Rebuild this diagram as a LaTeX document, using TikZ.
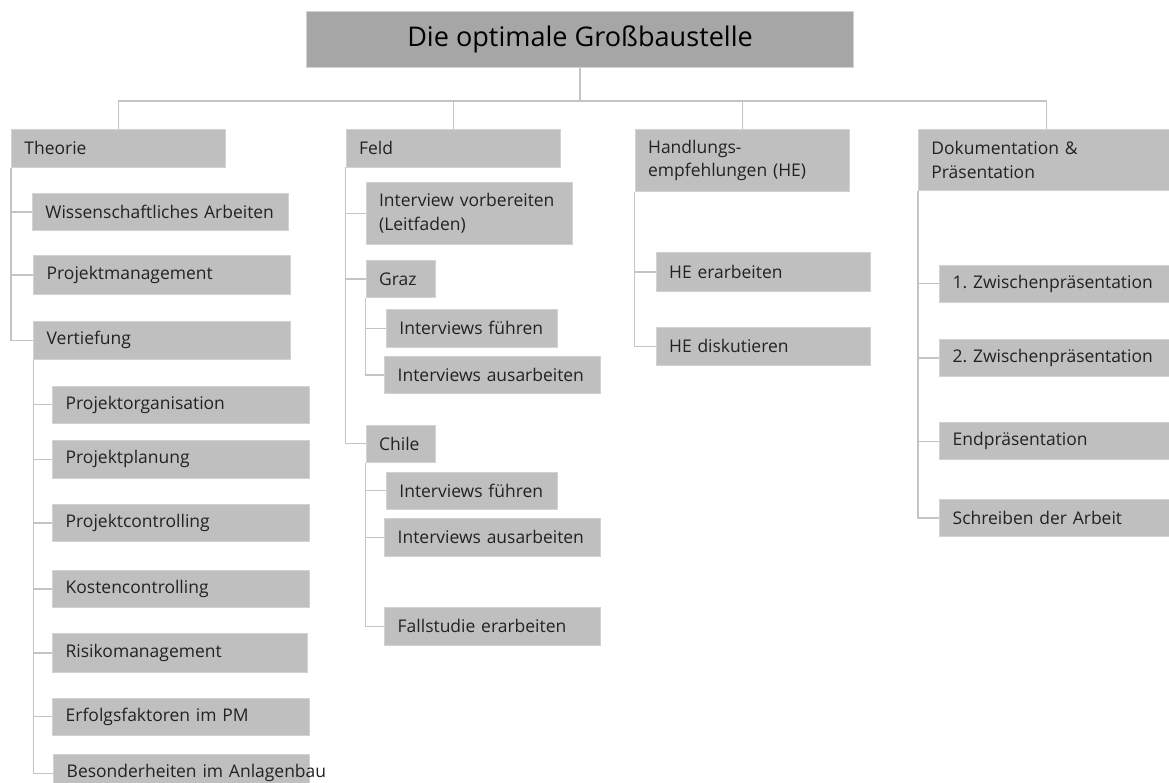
\documentclass[tikz,border=0pt]{standalone}
\usepackage{fontspec}
\setmainfont{Open Sans}
\newfontfamily\boxfam{Open Sans}[WordSpace=0.65]
\newdimen\px \px=0.75pt
\definecolor{boxfill}{HTML}{BFBFBF}
\definecolor{topfill}{HTML}{A6A6A6}
\definecolor{boxline}{HTML}{D2D2D2}
\definecolor{linegray}{HTML}{C4C4C4}
\definecolor{ink}{HTML}{222222}
\frenchspacing
\begin{document}
\begin{tikzpicture}[x=0.75pt,y=-0.75pt,
  bx/.style 2 args={draw=boxline, fill=boxfill, line width=0.6pt,
    anchor=north west, inner xsep=13*\px, inner ysep=0pt,
    minimum width={#1*\px}, minimum height={#2*\px},
    text width={(#1-26)*\px}, align=left, text=ink,
    font=\boxfam\fontsize{13.1pt}{17.5pt}\selectfont},
  topbox/.style={draw=boxline, fill=topfill, line width=0.6pt,
    anchor=north west, inner sep=0pt, minimum width=546.5*\px,
    minimum height=56*\px, text=black,
    font=\fontsize{20.3pt}{25pt}\selectfont},
  conn/.style={draw=linegray, line width=0.9pt}]

\useasboundingbox (0,0) rectangle (1169,782);

% root
\node[topbox] (root) at (306.4,10.7) {Die optimale Großbaustelle};

% main branches
\node[bx={214}{37.7}]   (theorie) at (11,129)    {Theorie};
\node[bx={214.3}{37.5}] (feld)    at (345.7,129) {Feld};
\node[bx={214.3}{62}]   (hand)    at (634.7,129) {Handlungs-\\empfehlungen (HE)};
\node[bx={256}{61}]     (doku)    at (918,129)   {Dokumentation \&\\Präsentation};

% Theorie
\node[bx={256}{36.7}]   (wiss)  at (32,193.3)   {Wissenschaftliches Arbeiten};
\node[bx={256.7}{38.4}] (pm)    at (33.3,255.3) {Projektmanagement};
\node[bx={256.7}{37.7}] (vert)  at (33.3,321)   {Vertiefung};
\node[bx={256.4}{37}]   (porg)  at (52.3,385.7) {Projektorganisation};
\node[bx={256.4}{38.3}] (pplan) at (52.3,439.7) {Projektplanung};
\node[bx={256.4}{37.3}] (pctrl) at (52.3,504)   {Projektcontrolling};
\node[bx={256.4}{37}]   (kctrl) at (52.3,570)   {Kostencontrolling};
\node[bx={254.7}{38.4}] (risk)  at (52.3,633.3) {Risikomanagement};
\node[bx={256.4}{37.3}] (erf)   at (52.3,697.7) {Erfolgsfaktoren im PM};
\node[bx={255.4}{37}]   (bes)   at (53.3,754.3) {\mbox{Besonderheiten im Anlagenbau}};

% Feld
\node[bx={206.3}{62}]   (intv)  at (365.7,181.7) {Interview vorbereiten\\(Leitfaden)};
\node[bx={69.3}{37.6}]  (graz)  at (365.7,259.7) {Graz};
\node[bx={171.3}{37.7}] (gfue)  at (386,309)     {\mbox{Interviews führen}};
\node[bx={215.7}{37.3}] (gaus)  at (384.3,356)   {\mbox{Interviews ausarbeiten}};
\node[bx={69.3}{36.7}]  (chile) at (365.7,425)   {Chile};
\node[bx={171.3}{37.3}] (cfue)  at (386,471.7)   {\mbox{Interviews führen}};
\node[bx={215.7}{38.3}] (caus)  at (384.3,517.7) {\mbox{Interviews ausarbeiten}};
\node[bx={215.7}{38.3}] (fall)  at (384.3,606.7) {Fallstudie erarbeiten};

% Handlungsempfehlungen
\node[bx={214.6}{38.4}] (heerb) at (655.7,252.3) {HE erarbeiten};
\node[bx={214.6}{38}]   (hedis) at (655.7,326.7) {HE diskutieren};

% Dokumentation
\node[bx={256}{36.7}] (zw1)  at (939.3,265)   {1. Zwischenpräsentation};
\node[bx={256}{37}]   (zw2)  at (939.3,339)   {2. Zwischenpräsentation};
\node[bx={256}{37}]   (endp) at (939.3,422.3) {Endpräsentation};
\node[bx={256}{37}]   (schr) at (939.3,499)   {Schreiben der Arbeit};

% connectors from the root
\coordinate (bus) at (0,101);
\draw[conn] (root.south) -- (root.south |- bus);
\draw[conn] (theorie.north) -- (theorie.north |- bus) -- (doku.north |- bus) -- (doku.north);
\draw[conn] (feld.north) -- (feld.north |- bus);
\draw[conn] (hand.north) -- (hand.north |- bus);

% tree connectors
\foreach \p/\c in {theorie/wiss, theorie/pm, theorie/vert,
    vert/porg, vert/pplan, vert/pctrl, vert/kctrl, vert/risk, vert/erf, vert/bes,
    feld/intv, feld/graz, feld/chile,
    graz/gfue, graz/gaus,
    chile/cfue, chile/caus, chile/fall,
    hand/heerb, hand/hedis,
    doku/zw1, doku/zw2, doku/endp, doku/schr}
  \draw[conn] (\p.south west) |- (\c.west);

\end{tikzpicture}
\end{document}
